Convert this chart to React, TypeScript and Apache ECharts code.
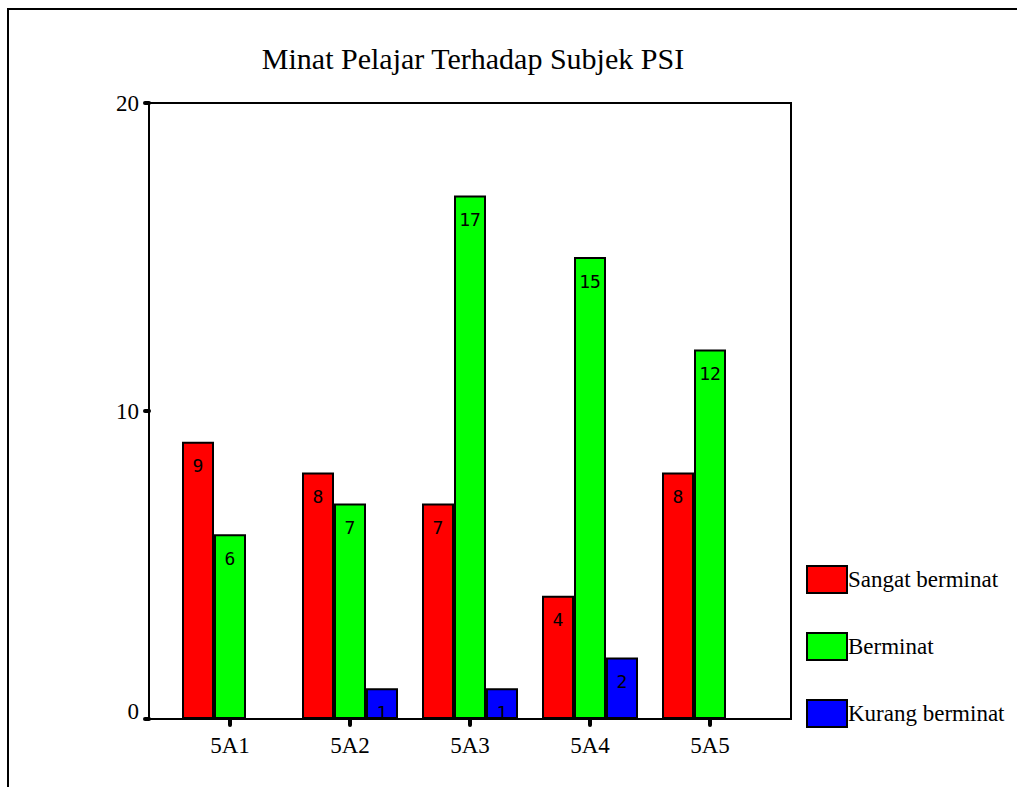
import React, { useEffect, useRef } from "react";
import * as echarts from "echarts";

const categories = ["5A1", "5A2", "5A3", "5A4", "5A5"];
const sangatBerminat = [9, 8, 7, 4, 8];
const berminat = [6, 7, 17, 15, 12];
const kurangBerminat: (number | null)[] = [null, 1, 1, 2, null];
const seriesNames = ["Sangat berminat", "Berminat", "Kurang berminat"];
const yTicks = [0, 10, 20];

const serif = "'Liberation Serif', 'Times New Roman', serif";
const mono = "'DejaVu Sans Mono', 'Liberation Mono', monospace";

export default function App() {
  const ref = useRef<HTMLDivElement>(null);
  useEffect(() => {
    if (!ref.current) return;
    const chart = echarts.init(ref.current, null, { renderer: "svg" });
    const colors = ["#ff0000", "#00ff00", "#0000ff"];
    const datas = [sangatBerminat, berminat, kurangBerminat];
    chart.setOption({
      animation: false,
      backgroundColor: "#ffffff",
      title: {
        text: "Minat Pelajar Terhadap Subjek PSI",
        left: 468,
        textAlign: "center",
        top: 38,
        textStyle: { fontFamily: serif, fontSize: 30, fontWeight: "normal", color: "#000" },
      },
      legend: {
        orient: "vertical",
        left: 801,
        top: 560,
        itemWidth: 40,
        itemHeight: 27,
        itemGap: 38,
        itemStyle: { borderColor: "#000", borderWidth: 2 },
        icon: "rect",
        data: seriesNames,
        selectedMode: false,
        textStyle: { fontFamily: serif, fontSize: 23, color: "#000", padding: [0, 0, 0, -4] },
      },
      grid: { left: 170, top: 103, width: 600, height: 616 },
      xAxis: {
        type: "category",
        data: categories,
        axisLine: { show: false },
        axisTick: {
          show: true,
          alignWithLabel: true,
          length: 6,
          lineStyle: { color: "#000", width: 4, cap: "round" },
        },
        axisLabel: { fontFamily: serif, fontSize: 23, color: "#000", margin: 15 },
      },
      yAxis: {
        type: "value",
        min: 0,
        max: 20,
        interval: 10,
        offset: 21,
        splitLine: { show: false },
        axisLine: { show: false },
        axisTick: { show: true, length: 4, lineStyle: { color: "#000", width: 4, cap: "round" } },
        axisLabel: {
          fontFamily: serif,
          fontSize: 23,
          color: "#000",
          margin: 10,
          formatter: (v: number) => (yTicks.includes(v) ? (v === 0 ? "{z|0}" : String(v)) : ""),
          rich: { z: { fontFamily: serif, fontSize: 23, color: "#000", padding: [0, 0, 16, 0] } },
        },
      },
      series: seriesNames.map((name, i) => ({
        name,
        type: "bar",
        data: datas[i],
        barWidth: 32,
        barGap: "0%",
        itemStyle: { color: colors[i], borderColor: "#000", borderWidth: 2 },
        label: {
          show: true,
          position: "insideTop",
          distance: 15,
          fontFamily: mono,
          fontSize: 18,
          color: "#000",
        },
      })),
      graphic: [
        {
          type: "rect",
          shape: { x: 8, y: 9, width: 1100, height: 900 },
          style: { fill: "none", stroke: "#000", lineWidth: 2 },
          silent: true,
        },
        {
          type: "rect",
          shape: { x: 149, y: 103, width: 642, height: 616 },
          style: { fill: "none", stroke: "#000", lineWidth: 2 },
          silent: true,
          z: 10,
        },
      ],
    });
    return () => chart.dispose();
  }, []);
  return (
    <div
      ref={ref}
      style={{ position: "fixed", left: 0, top: 0, width: 1017, height: 787, background: "#fff" }}
    />
  );
}
